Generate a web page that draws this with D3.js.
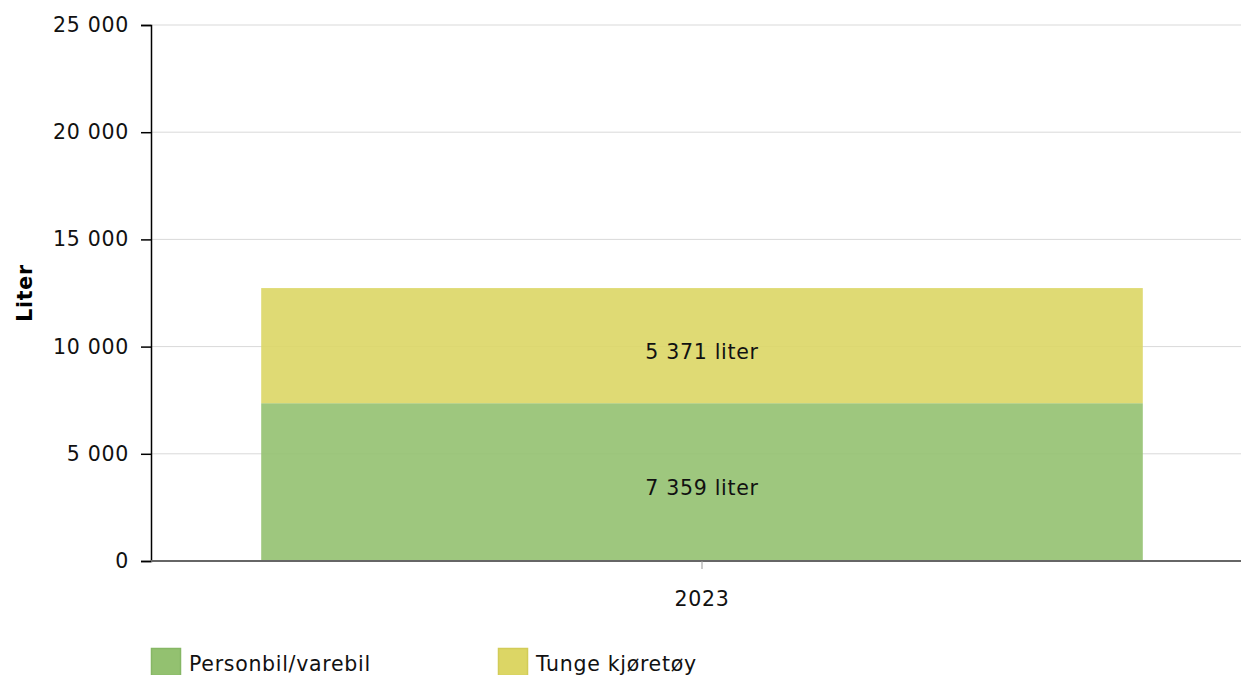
<!DOCTYPE html>
<html>
<head>
<meta charset="utf-8">
<script src="https://d3js.org/d3.v7.min.js"></script>
<style>
  body { margin: 0; background: #fff; }
  svg { font-family: "DejaVu Sans", Verdana, sans-serif; letter-spacing: 0.7px; }
</style>
</head>
<body>
<svg width="1241" height="675"></svg>
<script>
// data
var years = ["2023"];
var seriesNames = ["Personbil/varebil", "Tunge kjøretøy"];
var personbil = [7359];
var tunge = [5371];
var yTicks = [0, 5000, 10000, 15000, 20000, 25000];
var colors = ["#93c170", "#dcd665"];
var borders = ["#86b765", "#d2cc58"];

var svg = d3.select("svg");
var fs = 20.5;

var x = d3.scaleBand().domain(years).range([151, 1253]).paddingInner(0.2).paddingOuter(0.1);
var y = d3.scaleLinear().domain([0, 25000]).range([561, 25]);

var fmt = function(v) { return d3.format(",")(v).replace(/,/g, " "); };

// gridlines
svg.append("g")
  .selectAll("line")
  .data(yTicks.filter(function(d) { return d > 0; }))
  .enter()
  .append("line")
  .attr("x1", 151).attr("x2", 1241)
  .attr("y1", function(d) { return y(d); })
  .attr("y2", function(d) { return y(d); })
  .attr("stroke", "#d9d9d9")
  .attr("stroke-width", 1);

// stacked bars
var stack = d3.stack().keys([0, 1]);
var rows = years.map(function(yr, i) { return [personbil[i], tunge[i]]; });
var layers = stack(rows);

layers.forEach(function(layer, k) {
  svg.append("g")
    .selectAll("rect")
    .data(layer)
    .enter()
    .append("rect")
    .attr("x", function(d, i) { return x(years[i]); })
    .attr("width", x.bandwidth())
    .attr("y", function(d) { return y(d[1]); })
    .attr("height", function(d) { return y(d[0]) - y(d[1]); })
    .attr("fill", colors[k])
    .attr("fill-opacity", 0.9);

  svg.append("g")
    .selectAll("text")
    .data(layer)
    .enter()
    .append("text")
    .attr("x", function(d, i) { return x(years[i]) + x.bandwidth() / 2; })
    .attr("y", function(d) { return (y(d[0]) + y(d[1])) / 2; })
    .attr("dy", "0.65em")
    .attr("text-anchor", "middle")
    .attr("font-size", fs)
    .attr("fill", "#111")
    .text(function(d) { return fmt(d[1] - d[0]) + " liter"; });
});

// y axis
var yAxis = svg.append("g")
  .attr("transform", "translate(151,0)")
  .call(d3.axisLeft(y).tickValues(yTicks).tickSize(10).tickPadding(12).tickFormat(fmt));
yAxis.select(".domain").attr("stroke", "#000").attr("stroke-width", 1.5);
yAxis.selectAll(".tick line").attr("stroke", "#000").attr("stroke-width", 1.5);
yAxis.selectAll("text").attr("font-size", fs).attr("font-family", "DejaVu Sans").attr("fill", "#111");

// x axis
var xAxis = svg.append("g")
  .attr("transform", "translate(0,561)")
  .call(d3.axisBottom(x).tickSize(8).tickPadding(22).tickSizeOuter(0));
xAxis.select(".domain").attr("d", "M151,0H1241").attr("stroke", "#666").attr("stroke-width", 2);
xAxis.selectAll(".tick line").attr("stroke", "#999");
xAxis.selectAll("text").attr("font-size", fs).attr("font-family", "DejaVu Sans").attr("fill", "#111");

// y title
svg.append("text")
  .attr("transform", "translate(32,293) rotate(-90)")
  .attr("text-anchor", "middle")
  .attr("font-size", fs)
  .attr("font-weight", "bold")
  .text("Liter");

// legend
var legendX = [151, 498];
var legend = svg.append("g")
  .selectAll("g")
  .data(seriesNames)
  .enter()
  .append("g")
  .attr("transform", function(d, i) { return "translate(" + legendX[i] + ",648)"; });
legend.append("rect")
  .attr("x", 0.5).attr("y", 0.5)
  .attr("width", 29).attr("height", 27)
  .attr("fill", function(d, i) { return colors[i]; })
  .attr("stroke", function(d, i) { return borders[i]; })
  .attr("stroke-width", 1.5);
legend.append("text")
  .attr("x", 38)
  .attr("y", 16)
  .attr("dy", "0.35em")
  .attr("font-size", fs)
  .attr("fill", "#111")
  .text(function(d) { return d; });
</script>
</body>
</html>
